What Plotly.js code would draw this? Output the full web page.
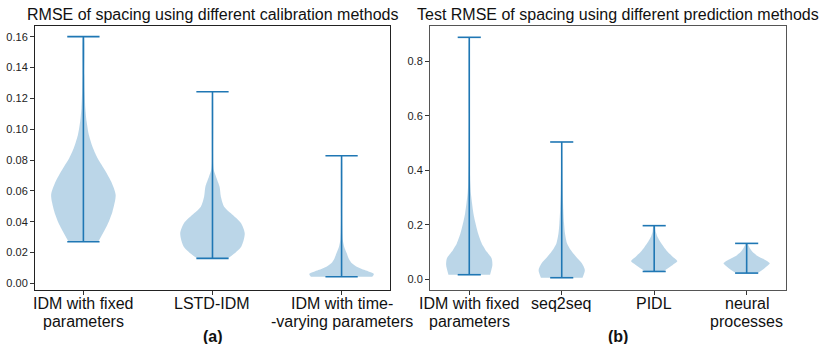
<!DOCTYPE html>
<html>
<head>
<meta charset="utf-8">
<script src="https://cdn.plot.ly/plotly-3.0.1.min.js"></script>
<style>
  body { margin: 0; background: #fff; }
  #chart { width: 831px; height: 344px; }
</style>
</head>
<body>
<div id="chart"></div>
<script>
// panel (a): calibration methods, each label split in its printed lines
const calibLabels = [['IDM with fixed', 'parameters'], ['LSTD-IDM'], ['IDM with time-', '-varying parameters']];
const calibMin = [0.027, 0.0162, 0.0043];
const calibMax = [0.160, 0.1243, 0.0828];
// density profile: levels (RMSE) and relative width (1 = widest)
const calibLevels = [
  [0.027, 0.0378, 0.0465, 0.0573, 0.066, 0.0746, 0.0811, 0.0876, 0.0962, 0.1049, 0.1136, 0.1243, 0.1352, 0.160],
  [0.0162, 0.0173, 0.0238, 0.0324, 0.0389, 0.0454, 0.0497, 0.0562, 0.0627, 0.0692, 0.0735, 0.0779, 0.1243],
  [0.0043, 0.006, 0.0086, 0.0108, 0.013, 0.0162, 0.0195, 0.0238, 0.0281, 0.0389, 0.0828]
];
const calibWidths = [
  [0.46, 0.74, 0.9, 1.0, 0.86, 0.63, 0.44, 0.3, 0.17, 0.1, 0.06, 0.04, 0.03, 0.015],
  [0.45, 0.55, 0.89, 1.0, 0.89, 0.57, 0.36, 0.26, 0.22, 0.11, 0.04, 0.02, 0.005],
  [0.95, 1.0, 0.72, 0.47, 0.32, 0.22, 0.16, 0.08, 0.04, 0.02, 0.005]
];

// panel (b): prediction methods
const predLabels = [['IDM with fixed', 'parameters'], ['seq2seq'], ['PIDL'], ['neural', 'processes']];
const predMin = [0.017, 0.006, 0.029, 0.023];
const predMax = [0.888, 0.504, 0.197, 0.132];
const predLevels = [
  [0.017, 0.0525, 0.077, 0.101, 0.132, 0.169, 0.206, 0.242, 0.279, 0.316, 0.352, 0.45, 0.6, 0.888],
  [0.006, 0.034, 0.059, 0.083, 0.108, 0.132, 0.169, 0.206, 0.254, 0.316, 0.364, 0.45, 0.504],
  [0.029, 0.040, 0.0525, 0.067, 0.083, 0.101, 0.120, 0.138, 0.156, 0.175, 0.197],
  [0.023, 0.040, 0.059, 0.073, 0.0855, 0.101, 0.114, 0.126, 0.132]
];
const predWidths = [
  [0.9, 1.0, 0.97, 0.76, 0.54, 0.38, 0.27, 0.18, 0.12, 0.07, 0.045, 0.02, 0.01, 0.005],
  [0.9, 1.0, 0.87, 0.62, 0.39, 0.23, 0.14, 0.1, 0.07, 0.045, 0.035, 0.02, 0.005],
  [0.4, 0.58, 0.8, 1.0, 0.8, 0.58, 0.41, 0.26, 0.14, 0.07, 0.03],
  [0.47, 0.76, 1.0, 0.76, 0.47, 0.25, 0.14, 0.07, 0.04]
];

const blue = '#1f77b4';
const fillBlue = 'rgba(31,119,180,0.3)';
const halfWidth = 0.25;   // matplotlib default widths=0.5
const capHalf = 0.125;

// one closed polygon per violin
function violinBodies(levels, widths, xa, ya) {
  const traces = [];
  for (let i = 0; i < levels.length; i++) {
    const pos = i + 1;
    const xs = [], ys = [];
    for (let j = 0; j < levels[i].length; j++) {
      xs.push(pos + halfWidth * widths[i][j]);
      ys.push(levels[i][j]);
    }
    for (let j = levels[i].length - 1; j >= 0; j--) {
      xs.push(pos - halfWidth * widths[i][j]);
      ys.push(levels[i][j]);
    }
    traces.push({
      x: xs, y: ys, xaxis: xa, yaxis: ya,
      type: 'scatter', mode: 'lines', fill: 'toself',
      fillcolor: fillBlue,
      line: {width: 0, shape: 'spline', smoothing: 0.7, color: fillBlue},
      hoverinfo: 'skip', showlegend: false
    });
  }
  return traces;
}

// min/max caps and the bar between them
function violinExtrema(mins, maxs, xa, ya) {
  const xs = [], ys = [];
  for (let i = 0; i < mins.length; i++) {
    const pos = i + 1;
    xs.push(pos, pos, null);
    ys.push(mins[i], maxs[i], null);
    xs.push(pos - capHalf, pos + capHalf, null);
    ys.push(mins[i], mins[i], null);
    xs.push(pos - capHalf, pos + capHalf, null);
    ys.push(maxs[i], maxs[i], null);
  }
  return {
    x: xs, y: ys, xaxis: xa, yaxis: ya,
    type: 'scatter', mode: 'lines',
    line: {color: blue, width: 1.6},
    hoverinfo: 'skip', showlegend: false
  };
}

const data = [].concat(
  violinBodies(calibLevels, calibWidths, 'x', 'y'),
  [violinExtrema(calibMin, calibMax, 'x', 'y')],
  violinBodies(predLevels, predWidths, 'x2', 'y2'),
  [violinExtrema(predMin, predMax, 'x2', 'y2')]
);

const font = 'Liberation Sans, Arial, Helvetica, sans-serif';
const yDomain = [0.157, 0.9244];
const H = 344;

function xAxis(domain, range, n, anchor, lineColor) {
  return {
    domain: domain, range: range, anchor: anchor,
    tickmode: 'array',
    tickvals: Array.from({length: n}, (_, i) => i + 1),
    showticklabels: false,
    ticks: 'outside', ticklen: 4, tickcolor: '#333',
    showline: true, mirror: true, linecolor: lineColor, linewidth: 1,
    showgrid: false, zeroline: false, fixedrange: true, automargin: false
  };
}
function yAxis(range, dtick, fmt, anchor, lineColor) {
  return {
    domain: yDomain, range: range, anchor: anchor,
    tick0: 0, dtick: dtick, tickformat: fmt,
    ticks: 'outside', ticklen: 4, tickcolor: '#333',
    tickfont: {family: font, size: 11, color: '#222'},
    showline: true, mirror: true, linecolor: lineColor, linewidth: 1,
    showgrid: false, zeroline: false, fixedrange: true, automargin: false
  };
}

// category labels: one annotation per printed line, tighter than plotly's <br> spacing
const lineY = [303, 321];
function categoryLabels(labels, xref) {
  const out = [];
  labels.forEach((lines, i) => {
    lines.forEach((t, k) => {
      out.push({
        text: t, xref: xref, yref: 'paper', x: i + 1, y: 1 - lineY[k] / H,
        xanchor: 'center', yanchor: 'middle', showarrow: false,
        font: {family: font, size: 16, color: '#111'}
      });
    });
  });
  return out;
}

const layout = {
  width: 831, height: 344,
  margin: {l: 0, r: 0, t: 0, b: 0},
  paper_bgcolor: '#fff', plot_bgcolor: '#fff',
  showlegend: false,
  xaxis: xAxis([0.0421, 0.4693], [0.625, 3.375], calibLabels.length, 'y', '#222'),
  yaxis: yAxis([-0.0043, 0.1669], 0.02, '.2f', 'x', '#222'),
  xaxis2: xAxis([0.5174, 0.9458], [0.575, 4.425], predLabels.length, 'y2', '#555'),
  yaxis2: yAxis([-0.039, 0.9295], 0.2, '.1f', 'x2', '#555'),
  annotations: [
    {text: 'RMSE of spacing using different calibration methods', xref: 'paper', yref: 'paper',
     x: 0.2557, y: 0.959, xanchor: 'center', yanchor: 'middle', showarrow: false,
     font: {family: font, size: 16, color: '#111'}},
    {text: 'Test RMSE of spacing using different prediction methods', xref: 'paper', yref: 'paper',
     x: 0.7437, y: 0.959, xanchor: 'center', yanchor: 'middle', showarrow: false,
     font: {family: font, size: 16, color: '#111'}},
    {text: '<b>(a)</b>', xref: 'paper', yref: 'paper',
     x: 0.2563, y: 1 - 336 / H, xanchor: 'center', yanchor: 'middle', showarrow: false,
     font: {family: font, size: 16, color: '#111'}},
    {text: '<b>(b)</b>', xref: 'paper', yref: 'paper',
     x: 0.744, y: 1 - 336 / H, xanchor: 'center', yanchor: 'middle', showarrow: false,
     font: {family: font, size: 16, color: '#111'}}
  ].concat(categoryLabels(calibLabels, 'x'), categoryLabels(predLabels, 'x2'))
};

Plotly.newPlot('chart', data, layout, {staticPlot: true, displayModeBar: false});
</script>
</body>
</html>
